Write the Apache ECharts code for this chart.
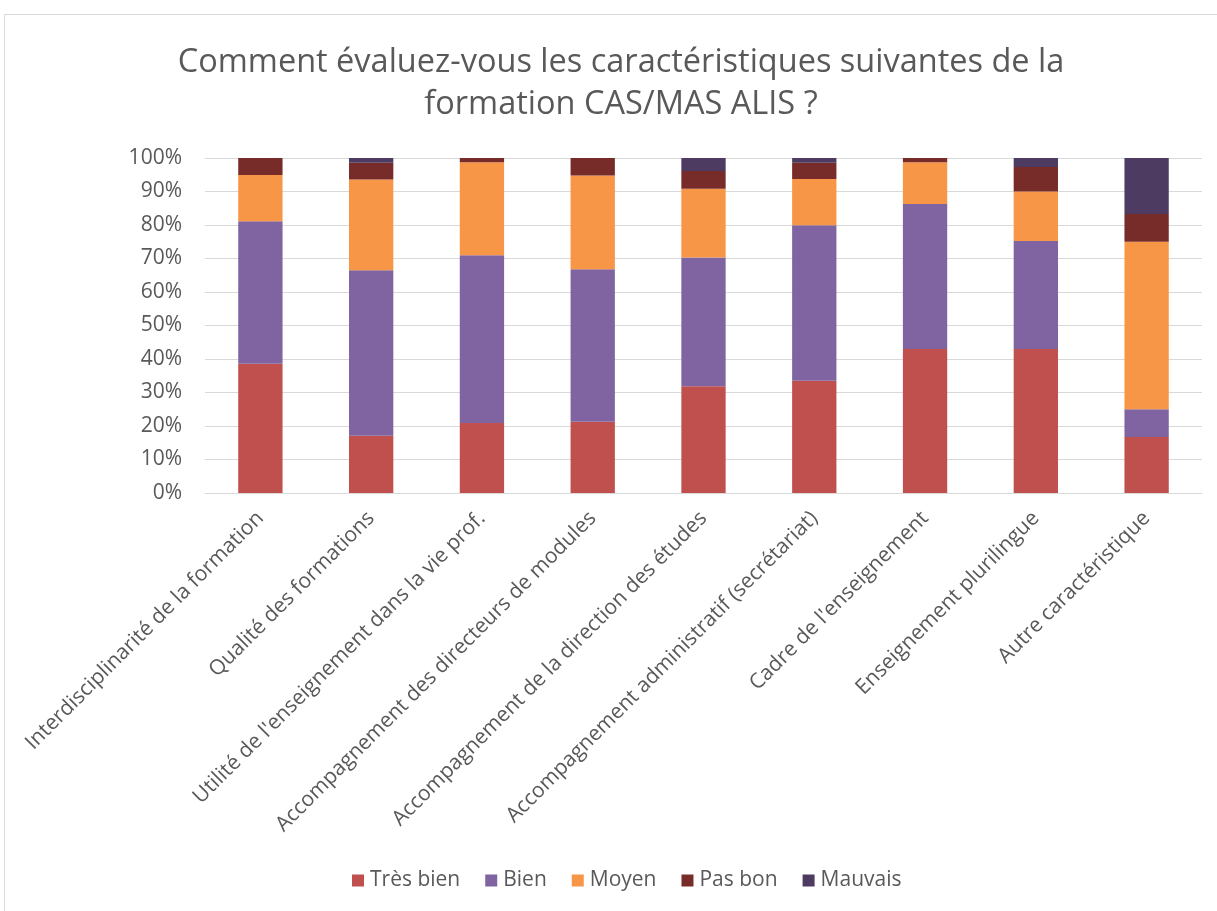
<!DOCTYPE html>
<html>
<head>
<meta charset="utf-8">
<script src="https://cdn.jsdelivr.net/npm/echarts@6/dist/echarts.min.js"></script>
<style>
  html, body { margin: 0; padding: 0; background: #fff; }
  #chart { width: 1217px; height: 911px; }
</style>
</head>
<body>
<div id="chart"></div>
<script>
// categories and series values (percentages)
const categories = [
  'Interdisciplinarité de la formation',
  'Qualité des formations',
  "Utilité de l'enseignement dans la vie prof.",
  'Accompagnement des directeurs de modules',
  'Accompagnement de la direction des études',
  'Accompagnement administratif (secrétariat)',
  "Cadre de l'enseignement",
  'Enseignement plurilingue',
  'Autre caractéristique'
]
const tresBien = [38.6, 17.1, 20.9, 21.3, 31.9, 33.5, 43.0, 43.0, 16.7]
const bien = [42.5, 49.4, 50.1, 45.5, 38.4, 46.4, 43.3, 32.2, 8.3]
const moyen = [13.8, 27.1, 27.7, 28.0, 20.5, 13.8, 12.4, 14.8, 50.0]
const pasBon = [5.1, 5.0, 1.3, 5.2, 5.3, 4.9, 1.3, 7.3, 8.3]
const mauvais = [0, 1.4, 0, 0, 3.9, 1.4, 0, 2.7, 16.7]
const yTicks = [0, 10, 20, 30, 40, 50, 60, 70, 80, 90, 100]

const font = 'Open Sans'
const textColor = '#595959'

const seriesDefs = [
  { name: 'Très bien', data: tresBien, color: '#C0504D' },
  { name: 'Bien', data: bien, color: '#8064A2' },
  { name: 'Moyen', data: moyen, color: '#F79646' },
  { name: 'Pas bon', data: pasBon, color: '#772C2A' },
  { name: 'Mauvais', data: mauvais, color: '#4D3B62' }
]

let chart = echarts.init(document.getElementById('chart'))
chart.setOption({
  animation: false,
  textStyle: { fontFamily: font },
  graphic: [{
    type: 'rect',
    shape: { x: 4.5, y: 14.5, width: 1230, height: 920 },
    style: { fill: 'none', stroke: '#d9d9d9', lineWidth: 1 },
    silent: true
  }],
  title: {
    text: 'Comment évaluez-vous les caractéristiques suivantes de la\nformation CAS/MAS ALIS ?',
    left: 616,
    textAlign: 'center',
    top: 37,
    textStyle: {
      fontFamily: font,
      fontSize: 32.5,
      fontWeight: 'normal',
      color: textColor,
      lineHeight: 42
    }
  },
  legend: {
    bottom: 15,
    left: 347,
    itemWidth: 12,
    itemHeight: 12,
    itemGap: 25,
    icon: 'rect',
    textStyle: { fontFamily: font, fontSize: 21, color: textColor, padding: [0, 0, 0, 1] },
    data: seriesDefs.map(s => s.name)
  },
  grid: {
    left: 205,
    right: 15,
    top: 158,
    bottom: 418,
    containLabel: false
  },
  xAxis: {
    type: 'category',
    data: categories,
    axisTick: { show: false },
    axisLine: { lineStyle: { color: '#d9d9d9', width: 1 } },
    axisLabel: {
      rotate: 45,
      interval: 0,
      margin: 22,
      fontFamily: font,
      fontSize: 21,
      color: textColor
    }
  },
  yAxis: {
    type: 'value',
    min: 0,
    max: 100,
    interval: 10,
    axisLine: { show: false },
    axisTick: { show: false },
    splitLine: { lineStyle: { color: '#d9d9d9', width: 1 } },
    axisLabel: {
      formatter: v => yTicks.includes(v) ? v + '%' : '',
      margin: 23,
      fontFamily: font,
      fontSize: 21,
      color: textColor
    }
  },
  series: seriesDefs.map(s => ({
    name: s.name,
    type: 'bar',
    stack: 'total',
    barWidth: '40%',
    data: s.data,
    itemStyle: { color: s.color },
    emphasis: { disabled: true }
  }))
})
</script>
</body>
</html>
